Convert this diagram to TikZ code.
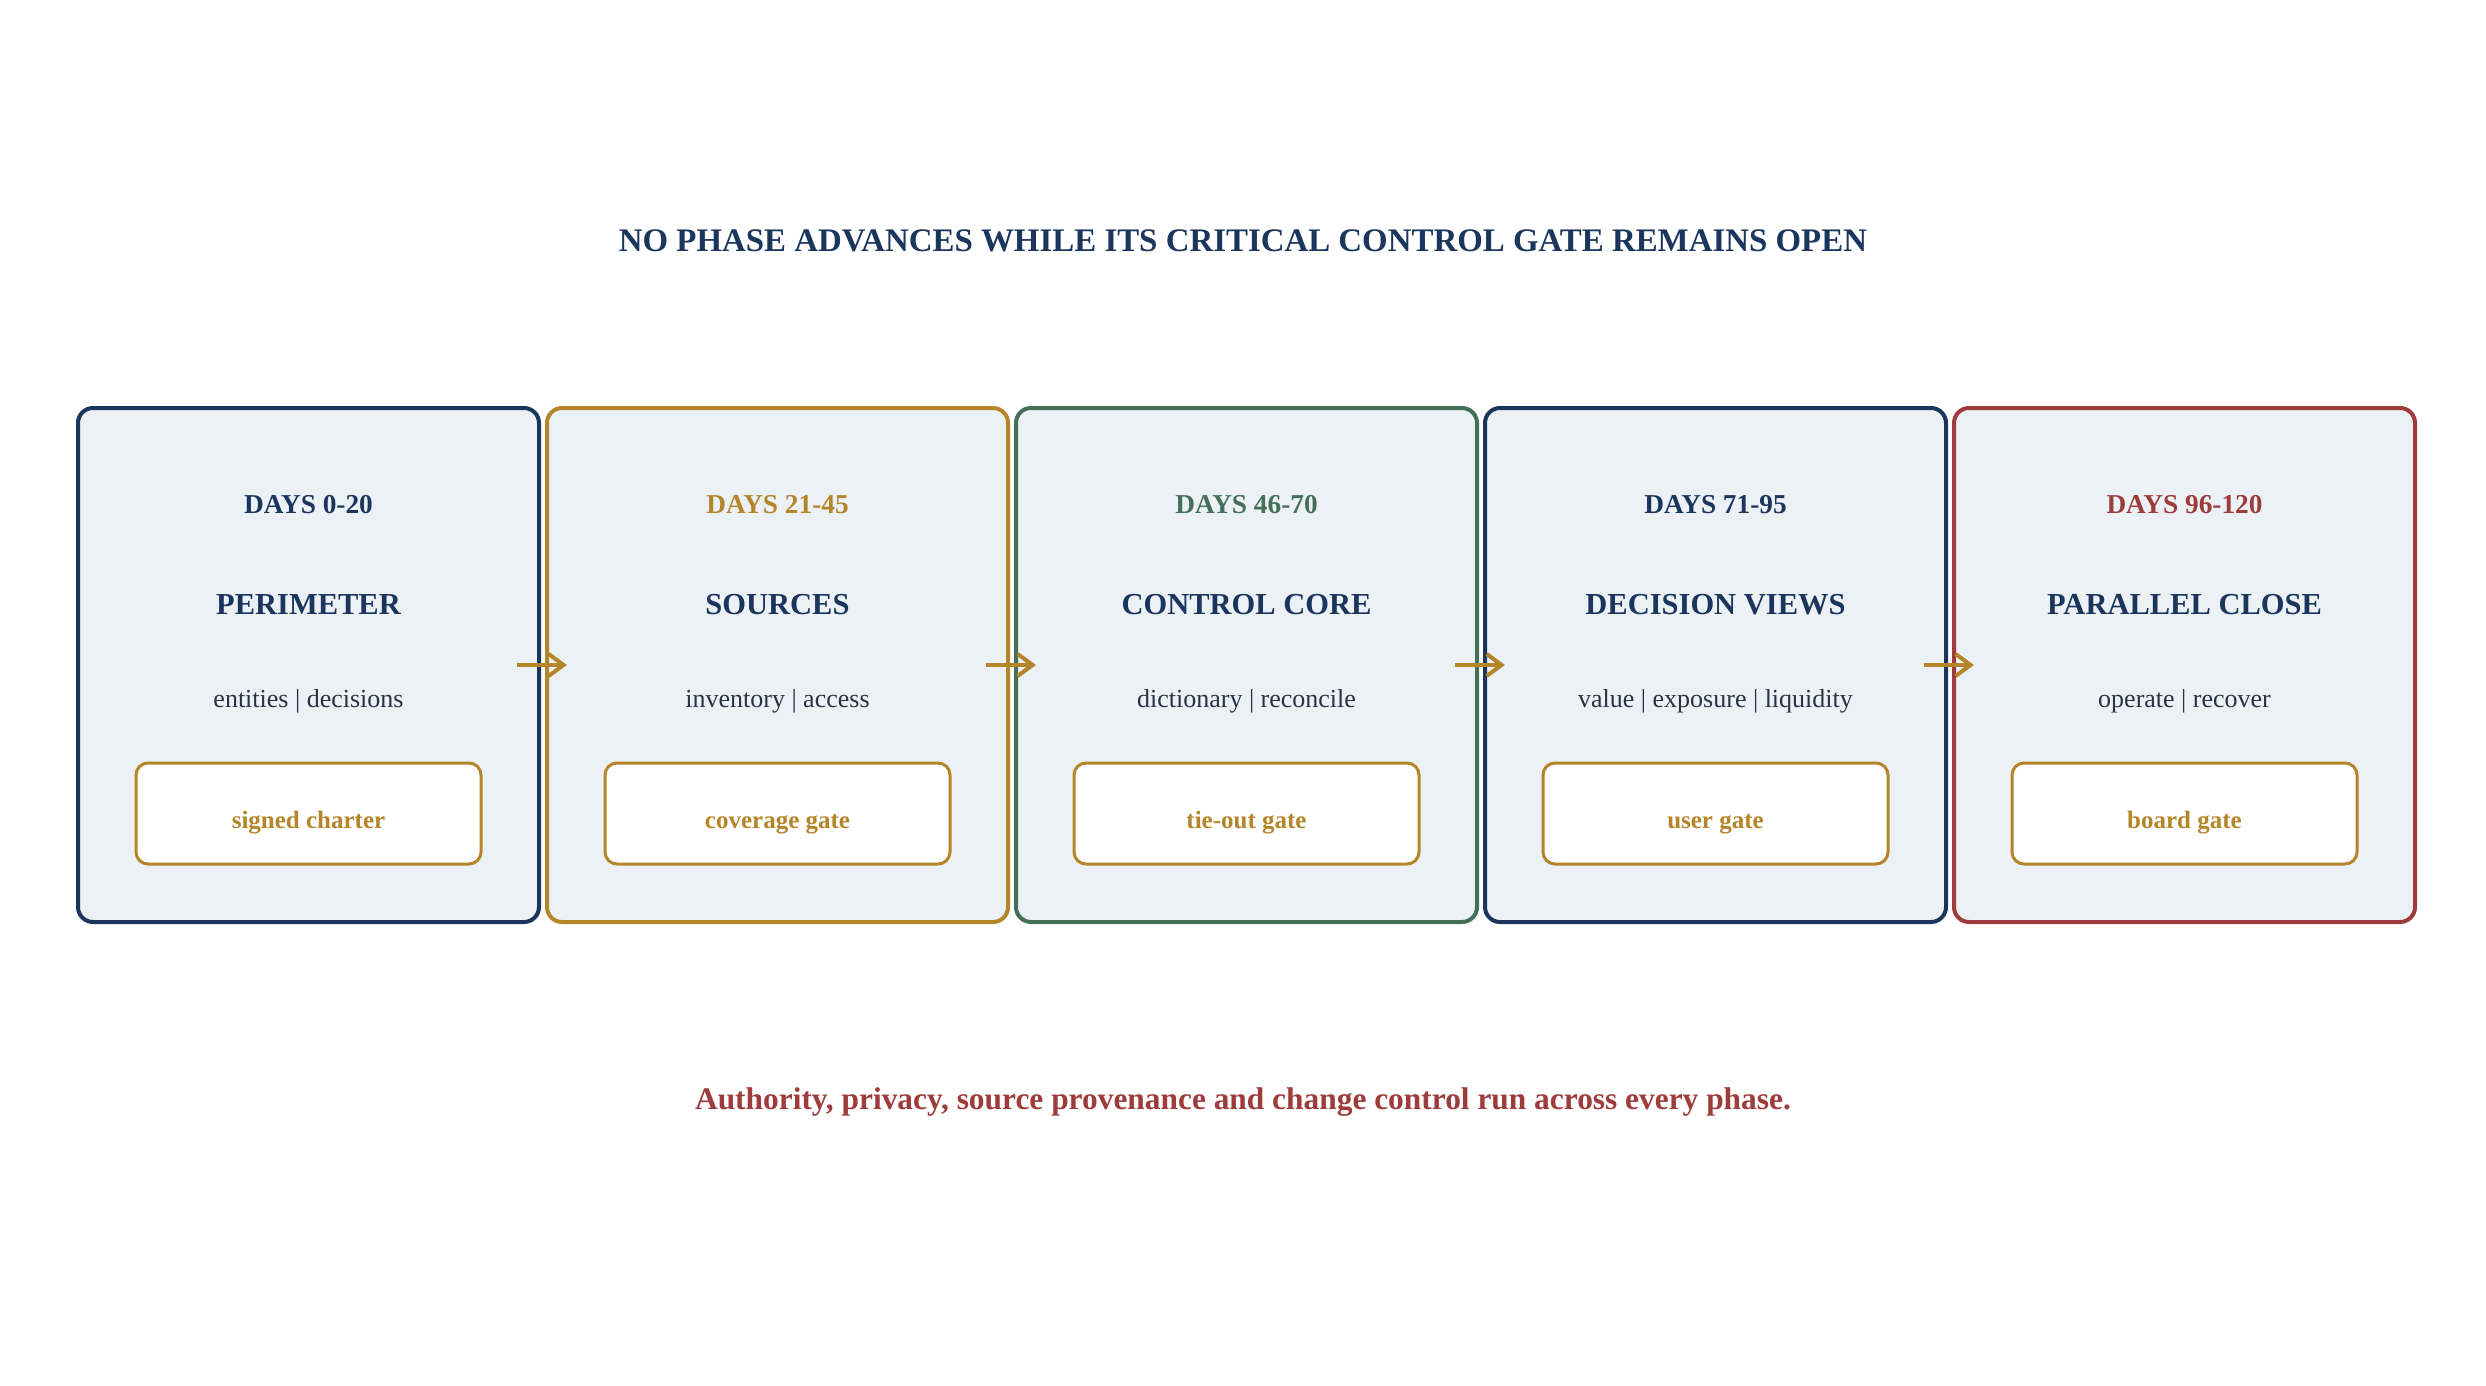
\documentclass[tikz,border=0pt]{standalone}
\usepackage{fontspec}
\setmainfont{Liberation Serif}
\usetikzlibrary{arrows.meta}
\definecolor{navy}{HTML}{1B365D}
\definecolor{gold}{HTML}{B5852A}
\definecolor{sage}{HTML}{44705A}
\definecolor{brick}{HTML}{9E3B3B}
\definecolor{panel}{HTML}{ECF1F5}
\definecolor{ink}{HTML}{2A3344}
\tikzset{
  phasebox/.style={draw=#1, line width=4pt, fill=panel, rounded corners=15pt, minimum width=461pt, minimum height=514pt, inner sep=0pt},
  gatebox/.style={draw=gold, line width=3pt, fill=white, rounded corners=12pt, minimum width=345pt, minimum height=101pt, inner sep=0pt},
  gatetxt/.style={text=gold, anchor=base, font=\fontsize{25}{30}\selectfont\bfseries},
  daystxt/.style={text=#1, font=\fontsize{27.3}{32}\selectfont\bfseries},
  nametxt/.style={text=navy, font=\fontsize{30.5}{36}\selectfont\bfseries},
  subtxt/.style={text=ink, font=\fontsize{26}{31}\selectfont},
  flow/.style={draw=gold, line width=4pt, -{Straight Barb[length=15pt,width=22pt,line width=4pt]}},
}
\begin{document}
\begin{tikzpicture}[x=1pt,y=-1pt]
\useasboundingbox (0,0) rectangle (2486,1386);
\node[text=navy, font=\fontsize{32.9}{38}\selectfont\bfseries] (title) at (1243,240.5) {NO PHASE ADVANCES WHILE ITS CRITICAL CONTROL GATE REMAINS OPEN};
\foreach \i/\cx/\col/\days/\name/\sub/\gate in {
  1/308.5/navy/DAYS 0-20/PERIMETER/entities | decisions/signed charter,
  2/777.5/gold/DAYS 21-45/SOURCES/inventory | access/coverage gate,
  3/1246.5/sage/DAYS 46-70/CONTROL CORE/dictionary | reconcile/tie-out gate,
  4/1715.5/navy/DAYS 71-95/DECISION VIEWS/value | exposure | liquidity/user gate,
  5/2184.5/brick/DAYS 96-120/PARALLEL CLOSE/operate | recover/board gate}{
  \node[phasebox=\col] (box\i) at (\cx,665) {};
  \node[daystxt=\col] (days\i) at (\cx,504.5) {\days};
  \node[nametxt] (name\i) at (\cx,605) {\name};
  \node[subtxt] (sub\i) at (\cx,701) {\sub};
  \node[gatebox] (gate\i) at (\cx,813.5) {};
  \node[gatetxt] (gatelabel\i) at (\cx,828) {\gate};
}
\foreach \a/\b in {1/2,2/3,3/4,4/5}{
  \coordinate (s\a) at ([xshift=-24pt]box\a.east);
  \coordinate (e\a) at ([xshift=22pt]box\b.west);
  \draw[flow] (s\a) -- (e\a);
}
\node[text=brick, font=\fontsize{31.4}{37}\selectfont\bfseries] (foot) at (1243,1102) {Authority, privacy, source provenance and change control run across every phase.};
\end{tikzpicture}
\end{document}
